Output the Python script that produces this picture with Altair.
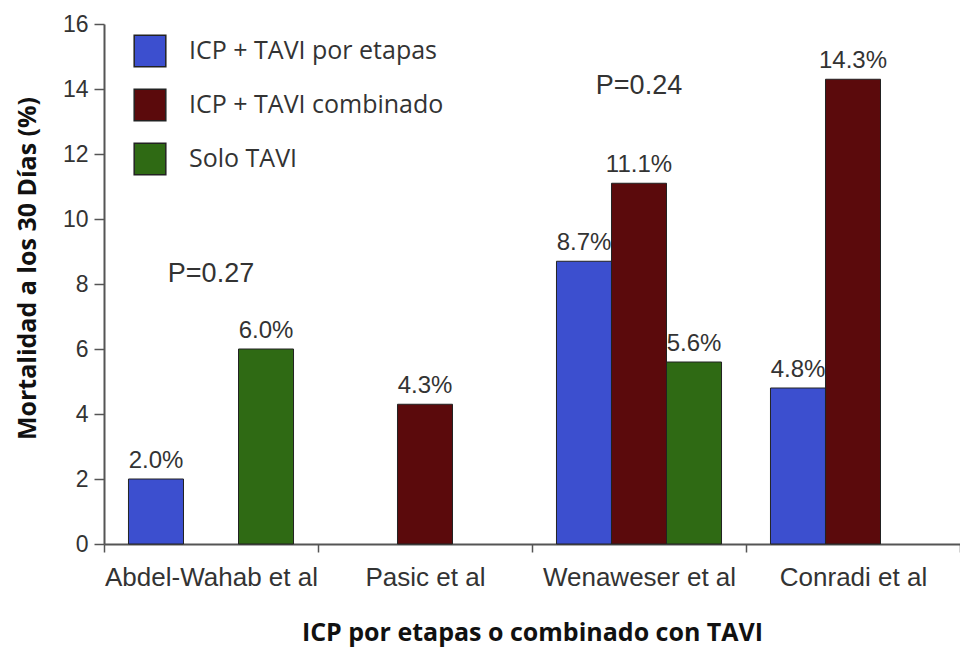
import altair as alt
import pandas as pd

studies = ["Abdel-Wahab et al", "Pasic et al", "Wenaweser et al", "Conradi et al"]
series = ["ICP + TAVI por etapas", "ICP + TAVI combinado", "Solo TAVI"]
etapas = [2.0, None, 8.7, 4.8]
combinado = [None, 4.3, 11.1, 14.3]
solo = [6.0, None, 5.6, None]
colors = ["#3c4fcf", "#5b0a0c", "#2f6a14"]

p_labels = ["P=0.27", "P=0.24"]
p_groups = ["Abdel-Wahab et al", "Wenaweser et al"]
p_y = [8.3, 14.1]

rows = []
for s, vals in zip(series, [etapas, combinado, solo]):
    for st, v in zip(studies, vals):
        if v is not None:
            rows.append({"study": st, "series": s, "value": v, "label": f"{v:.1f}%"})
df = pd.DataFrame(rows)
pdf = pd.DataFrame({"study": p_groups, "label": p_labels, "y": p_y})

x_enc = alt.X("study:N", sort=studies,
              scale=alt.Scale(domain=studies, paddingInner=0, paddingOuter=0),
              axis=alt.Axis(title="ICP por etapas o combinado con TAVI", labelAngle=0,
                            tickBand="extent", tickSize=8, labelPadding=12, labelLimit=400,
                            labelFont="Liberation Sans", labelFontSize=26, labelColor="#333",
                            titleFont="Open Sans", titleFontWeight="bold", titleFontSize=25,
                            titleColor="#111", titlePadding=30))
y_scale = alt.Scale(domain=[0, 16], nice=False)
y_enc = alt.Y("value:Q", scale=y_scale,
              axis=alt.Axis(title="Mortalidad a los 30 Días (%)", values=list(range(0, 17, 2)),
                            tickSize=10, labelPadding=6, grid=False,
                            labelFont="Liberation Sans", labelFontSize=23, labelColor="#333",
                            titleFont="Open Sans", titleFontWeight="bold", titleFontSize=25,
                            titleColor="#111", titlePadding=22, titleY=244))
xoff = alt.XOffset("series:N", sort=series,
                   scale=alt.Scale(domain=series, paddingInner=0, paddingOuter=0.445))

bars = alt.Chart(df).mark_bar(stroke="#222", strokeWidth=1).encode(
    x=x_enc, xOffset=xoff, y=y_enc,
    color=alt.Color("series:N", sort=series,
                    scale=alt.Scale(domain=series, range=colors),
                    legend=alt.Legend(title=None, orient="none", legendX=29, legendY=10,
                                      symbolType="square", symbolSize=1000,
                                      symbolStrokeColor="#222", symbolStrokeWidth=1.5,
                                      symbolOpacity=1, rowPadding=16, labelOffset=22,
                                      labelFont="Open Sans", labelFontSize=25,
                                      labelColor="#333", labelLimit=400)),
)

vals = alt.Chart(df).mark_text(baseline="bottom", dy=-6, font="Liberation Sans",
                               fontSize=24, color="#333").encode(
    x=alt.X("study:N", sort=studies), xOffset=xoff,
    y=alt.Y("value:Q", scale=y_scale), text="label:N")

ptext = alt.Chart(pdf).mark_text(baseline="middle", font="Liberation Sans",
                                 fontSize=27, color="#333").encode(
    x=alt.X("study:N", sort=studies), y=alt.Y("y:Q", scale=y_scale), text="label:N")

chart = alt.layer(bars, vals, ptext).properties(
    width=856, height=520,
    autosize=alt.AutoSizeParams(type="none"),
    padding={"left": 96, "top": 16, "right": 0, "bottom": 106},
).configure_view(strokeWidth=0).configure_axis(
    domainColor="#555", domainWidth=2, tickColor="#555", tickWidth=1.5
)

chart.save("out.html", embed_options={"renderer": "svg", "actions": False})
